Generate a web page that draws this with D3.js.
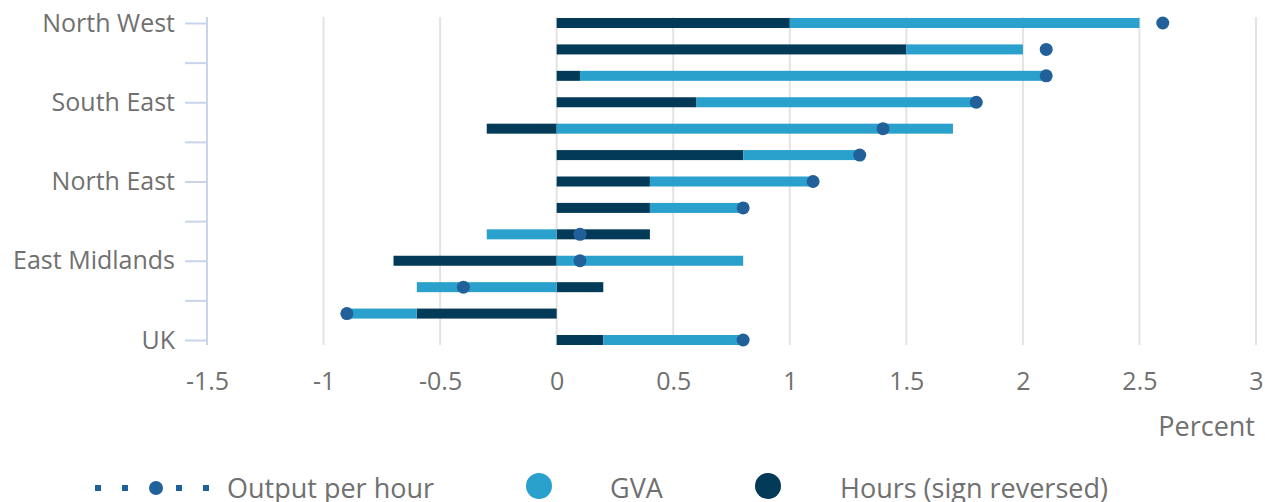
<!DOCTYPE html>
<html>
<head>
<meta charset="utf-8">
<script src="https://cdn.jsdelivr.net/npm/d3@7"></script>
<style>
  body { margin: 0; background: #fff; }
  text { font-family: "Open Sans", sans-serif; fill: #707070; }
</style>
</head>
<body>
<div id="my_dataviz"></div>
<script>
// data, top row first
var regions = ["North West", "London", "Scotland", "South East", "Northern Ireland", "South West",
               "North East", "Wales", "East of England", "East Midlands", "West Midlands",
               "Yorkshire and The Humber", "UK"];
var hours = [1.0, 1.5, 0.1, 0.6, -0.3, 0.8, 0.4, 0.4, 0.4, -0.7, 0.2, -0.6, 0.2];   // sign reversed
var gva = [1.5, 0.5, 2.0, 1.2, 1.7, 0.5, 0.7, 0.4, -0.3, 0.8, -0.6, -0.3, 0.6];
var outputPerHour = [2.6, 2.1, 2.1, 1.8, 1.4, 1.3, 1.1, 0.8, 0.1, 0.1, -0.4, -0.9, 0.8];
var xTicks = [-1.5, -1, -0.5, 0, 0.5, 1, 1.5, 2, 2.5, 3];

var colGva = "#2aa0cc", colHours = "#033a57", colDot = "#22609a";

var width = 1265, height = 502;

var svg = d3.select("#my_dataviz")
  .append("svg")
    .attr("width", width)
    .attr("height", height);

var x = d3.scaleLinear()
  .domain([-1.5, 3])
  .range([207, 1256]);

var y = d3.scalePoint()
  .domain(regions)
  .range([23, 340]);

// index scale for the y axis ticks (every 1.5 rows)
var yi = d3.scaleLinear().domain([0, regions.length - 1]).range([23, 340]);

// grid lines
svg.append("g")
  .selectAll("line")
  .data(xTicks)
  .enter()
  .append("line")
    .attr("x1", function (d) { return x(d); })
    .attr("x2", function (d) { return x(d); })
    .attr("y1", 17)
    .attr("y2", 345)
    .style("stroke", "#e3e3e3")
    .style("stroke-width", 2);

// x axis labels
var xAxis = svg.append("g")
  .attr("transform", "translate(0,356)")
  .call(d3.axisBottom(x).tickValues(xTicks).tickSize(0).tickPadding(0)
    .tickFormat(function (d) { return String(d); }));
xAxis.select(".domain").remove();
xAxis.selectAll("text")
  .attr("dy", "0")
  .attr("y", 34)
  .style("font-size", "25px")
  .style("fill", "#707070");

// y axis
var yAxis = svg.append("g")
  .attr("transform", "translate(207,0)")
  .call(d3.axisLeft(yi)
    .tickValues(d3.range(0, regions.length, 1.5))
    .tickSize(22)
    .tickPadding(10)
    .tickFormat(function (d) { return d % 3 === 0 ? regions[d] : ""; }));
yAxis.select(".domain")
  .attr("d", "M0,17V345")
  .style("stroke", "#c8d3ec")
  .style("stroke-width", 2);
yAxis.selectAll(".tick line")
  .style("stroke", "#c8d3ec")
  .style("stroke-width", 2);
yAxis.selectAll("text")
  .style("font-size", "25px")
  .style("fill", "#707070");

// stacked bars: hours nearest zero, then GVA
var barH = 10;
var rows = regions.map(function (r, i) {
  var segs = [];
  var pos = 0, neg = 0;
  [[hours[i], colHours], [gva[i], colGva]].forEach(function (s) {
    var v = s[0];
    if (v >= 0) { segs.push({r: r, x0: pos, x1: pos + v, c: s[1]}); pos += v; }
    else { segs.push({r: r, x0: neg + v, x1: neg, c: s[1]}); neg += v; }
  });
  return segs;
});

svg.append("g")
  .selectAll("rect")
  .data(rows.flat())
  .enter()
  .append("rect")
    .attr("x", function (d) { return x(d.x0); })
    .attr("width", function (d) { return x(d.x1) - x(d.x0); })
    .attr("y", function (d) { return y(d.r) - barH / 2; })
    .attr("height", barH)
    .style("fill", function (d) { return d.c; });

// dots
svg.append("g")
  .selectAll("circle")
  .data(outputPerHour)
  .enter()
  .append("circle")
    .attr("cx", function (d) { return x(d); })
    .attr("cy", function (d, i) { return y(regions[i]); })
    .attr("r", 6.5)
    .style("fill", colDot);

// axis title
svg.append("text")
  .attr("x", 1255)
  .attr("y", 436)
  .attr("text-anchor", "end")
  .style("font-size", "27px")
  .text("Percent");

// legend
var lg = svg.append("g");
[98, 125, 179, 206].forEach(function (cx) {
  lg.append("rect")
    .attr("x", cx - 3).attr("y", 485).attr("width", 6).attr("height", 6)
    .style("fill", colDot);
});
lg.append("circle").attr("cx", 156).attr("cy", 488).attr("r", 7).style("fill", colDot);
lg.append("text").attr("x", 227).attr("y", 498).style("font-size", "27px").text("Output per hour");

lg.append("circle").attr("cx", 539).attr("cy", 486).attr("r", 13).style("fill", colGva);
lg.append("text").attr("x", 610).attr("y", 498).style("font-size", "27px").text("GVA");

lg.append("circle").attr("cx", 768).attr("cy", 486).attr("r", 13).style("fill", colHours);
lg.append("text").attr("x", 840).attr("y", 498).style("font-size", "27px").text("Hours (sign reversed)");
</script>
</body>
</html>
